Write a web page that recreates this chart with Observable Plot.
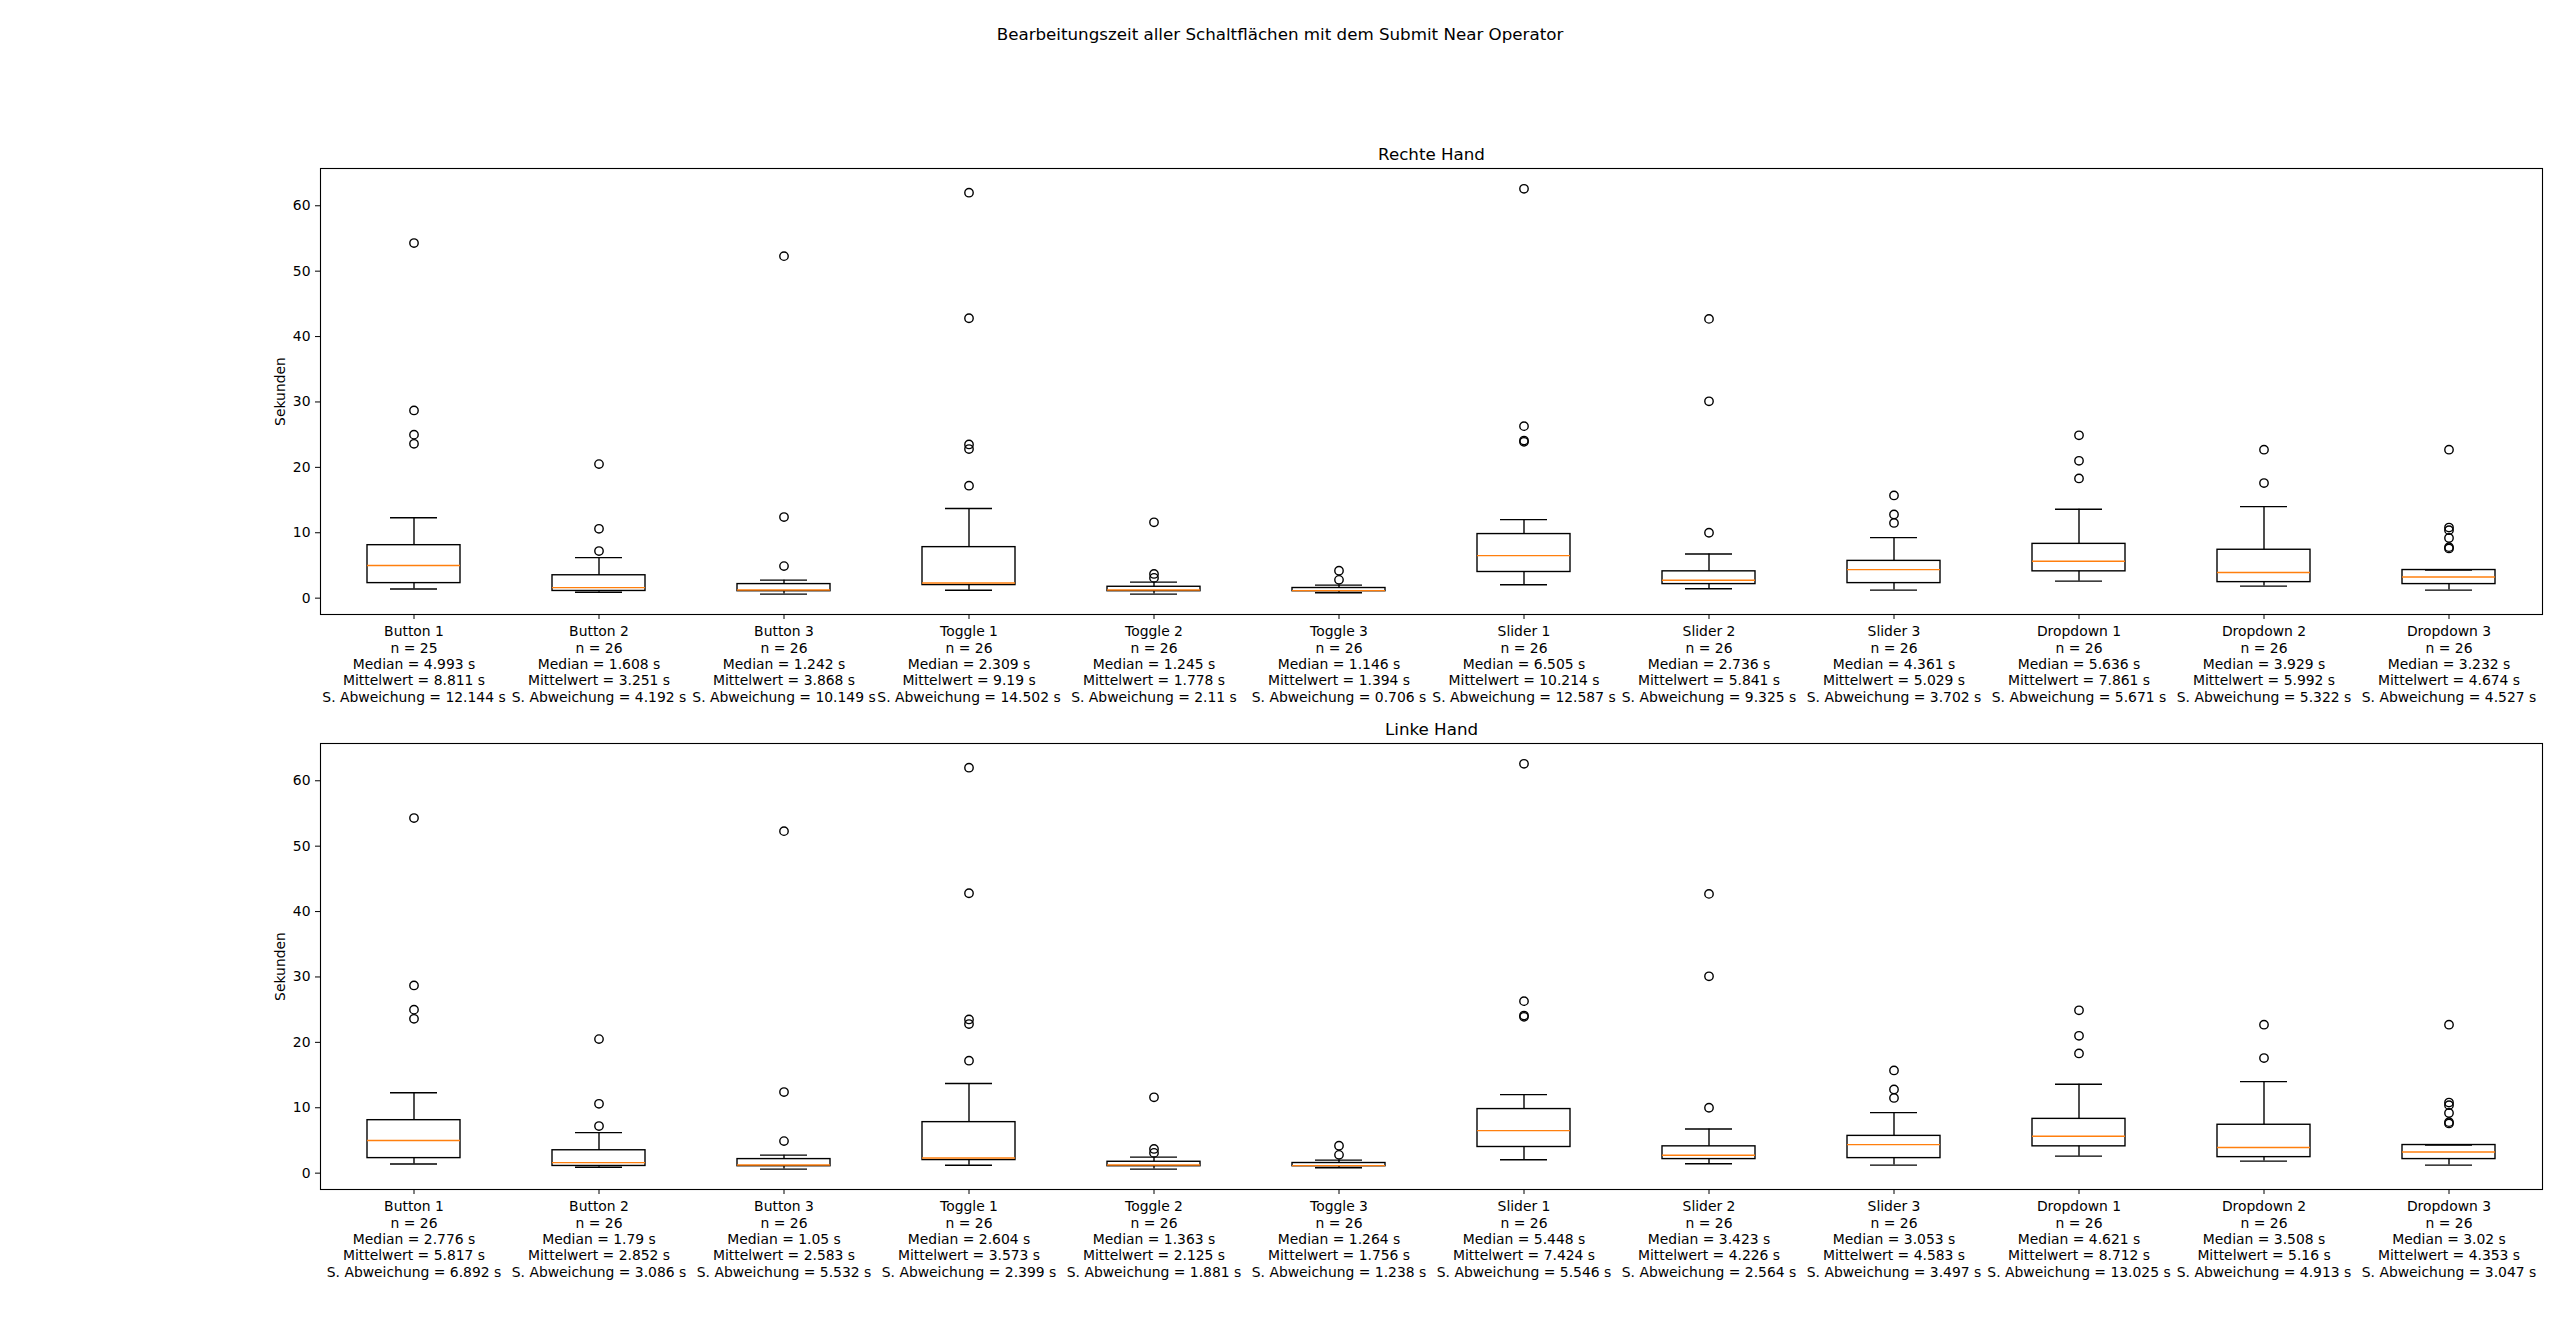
<!DOCTYPE html>
<html>
<head>
<meta charset="utf-8">
<script src="https://cdn.jsdelivr.net/npm/d3@7"></script>
<script src="https://cdn.jsdelivr.net/npm/@observablehq/plot@0.6"></script>
<style>
  html, body { margin: 0; padding: 0; background: white; }
  body { width: 2560px; height: 1335px; overflow: hidden; font-family: "DejaVu Sans", sans-serif; }
  #suptitle { height: 68px; line-height: 68px; text-align: center; font-size: 16.7px; color: black; }
  svg { display: block; }
</style>
</head>
<body>
<div id="suptitle">Bearbeitungszeit aller Schaltflächen mit dem Submit Near Operator</div>
<div id="charts"></div>
<script>
// ---- Data ----
const categories = ["Button 1","Button 2","Button 3","Toggle 1","Toggle 2","Toggle 3","Slider 1","Slider 2","Slider 3","Dropdown 1","Dropdown 2","Dropdown 3"];

// Label statistics – right hand
const rightN      = [25,26,26,26,26,26,26,26,26,26,26,26];
const rightMedian = ["4.993","1.608","1.242","2.309","1.245","1.146","6.505","2.736","4.361","5.636","3.929","3.232"];
const rightMean   = ["8.811","3.251","3.868","9.19","1.778","1.394","10.214","5.841","5.029","7.861","5.992","4.674"];
const rightSD     = ["12.144","4.192","10.149","14.502","2.11","0.706","12.587","9.325","3.702","5.671","5.322","4.527"];

// Label statistics – left hand
const leftN      = [26,26,26,26,26,26,26,26,26,26,26,26];
const leftMedian = ["2.776","1.79","1.05","2.604","1.363","1.264","5.448","3.423","3.053","4.621","3.508","3.02"];
const leftMean   = ["5.817","2.852","2.583","3.573","2.125","1.756","7.424","4.226","4.583","8.712","5.16","4.353"];
const leftSD     = ["6.892","3.086","5.532","2.399","1.881","1.238","5.546","2.564","3.497","13.025","4.913","3.047"];

// Box plot values as drawn (both panels show the same boxes)
const boxLow    = [1.4, 0.9, 0.62, 1.2, 0.62, 0.82, 2.05, 1.43, 1.23, 2.6, 1.84, 1.23];
const boxQ1     = [2.3, 1.1, 1.06, 2.0, 1.06, 1.06, 4.0, 2.15, 2.3, 4.1, 2.45, 2.15];
const boxMedian = [4.993, 1.608, 1.242, 2.309, 1.245, 1.146, 6.505, 2.736, 4.361, 5.636, 3.929, 3.232];
const boxQ3     = [8.1, 3.5, 2.15, 7.8, 1.74, 1.55, 9.8, 4.1, 5.7, 8.3, 7.4, 4.3];
const boxHigh   = [12.3, 6.2, 2.75, 13.7, 2.45, 2.0, 12.0, 6.75, 9.26, 13.6, 14.0, 4.3];
const boxOutliers = [
  [54.3, 28.7, 25.0, 23.6],
  [20.5, 10.6, 7.2],
  [52.3, 12.4, 4.9],
  [62.0, 42.8, 23.5, 22.8, 17.2],
  [11.6, 3.7, 3.1],
  [4.2, 2.8],
  [62.6, 26.3, 24.1, 23.9],
  [42.7, 30.1, 10.0],
  [15.7, 12.8, 11.5],
  [24.9, 21.0, 18.3],
  [22.7, 17.6],
  [22.7, 10.8, 10.4, 9.2, 7.8, 7.6]
];
const yTicks = [0, 10, 20, 30, 40, 50, 60];
const yDomain = [-2.5, 65.7];

// ---- Build rows ----
const boxes = categories.map((c, i) => ({cat: c, lo: boxLow[i], q1: boxQ1[i], med: boxMedian[i], q3: boxQ3[i], hi: boxHigh[i]}));
const outlierRows = categories.flatMap((c, i) => boxOutliers[i].map(v => ({cat: c, v})));

function panel(title, n, med, mean, sd, marginTop, marginBottom, height) {
  const fmt = d => {
    const i = categories.indexOf(d);
    return `${d}\nn = ${n[i]}\nMedian = ${med[i]} s\nMittelwert = ${mean[i]} s\nS. Abweichung = ${sd[i]} s`;
  };
  const lw = 1.39;
  return Plot.plot({
    width: 2560,
    height,
    marginLeft: 320,
    marginRight: 18,
    marginTop,
    marginBottom,
    style: {fontFamily: "DejaVu Sans", fontSize: "13.9px", color: "black", background: "white"},
    x: {type: "band", domain: categories, paddingInner: 0.5, paddingOuter: 0.25},
    y: {domain: yDomain},
    marks: [
      Plot.frame({stroke: "black", strokeWidth: 1.1}),
      Plot.ruleX(boxes, {x: "cat", y1: "lo", y2: "q1", stroke: "black", strokeWidth: lw}),
      Plot.ruleX(boxes, {x: "cat", y1: "q3", y2: "hi", stroke: "black", strokeWidth: lw}),
      Plot.tickY(boxes, {x: "cat", y: "lo", stroke: "black", strokeWidth: lw, insetLeft: 23, insetRight: 23}),
      Plot.tickY(boxes, {x: "cat", y: "hi", stroke: "black", strokeWidth: lw, insetLeft: 23, insetRight: 23}),
      Plot.barY(boxes, {x: "cat", y1: "q1", y2: "q3", fill: "none", stroke: "black", strokeWidth: lw}),
      Plot.tickY(boxes, {x: "cat", y: "med", stroke: "#ff7f0e", strokeWidth: lw}),
      Plot.dot(outlierRows, {x: "cat", y: "v", r: 4.2, fill: "none", stroke: "black", strokeWidth: lw}),
      Plot.axisY({ticks: yTicks, tickSize: 5, tickPadding: 5, label: null, fontSize: 13.9}),
      Plot.axisX({tickSize: 5, tickPadding: 5, label: null, fontSize: 13.9, lineHeight: 1.18, tickFormat: fmt}),
      Plot.text([title], {frameAnchor: "top", textAnchor: "middle", lineAnchor: "bottom", dy: -9, fontSize: 16.7, text: d => d}),
      Plot.text(["Sekunden"], {frameAnchor: "left", textAnchor: "middle", lineAnchor: "middle", rotate: -90, dx: -40, fontSize: 13.9, text: d => d})
    ]
  });
}

const charts = document.getElementById("charts");
charts.appendChild(panel("Rechte Hand", rightN, rightMedian, rightMean, rightSD, 100, 106, 652));
charts.appendChild(panel("Linke Hand", leftN, leftMedian, leftMean, leftSD, 23, 146, 615));
</script>
</body>
</html>
